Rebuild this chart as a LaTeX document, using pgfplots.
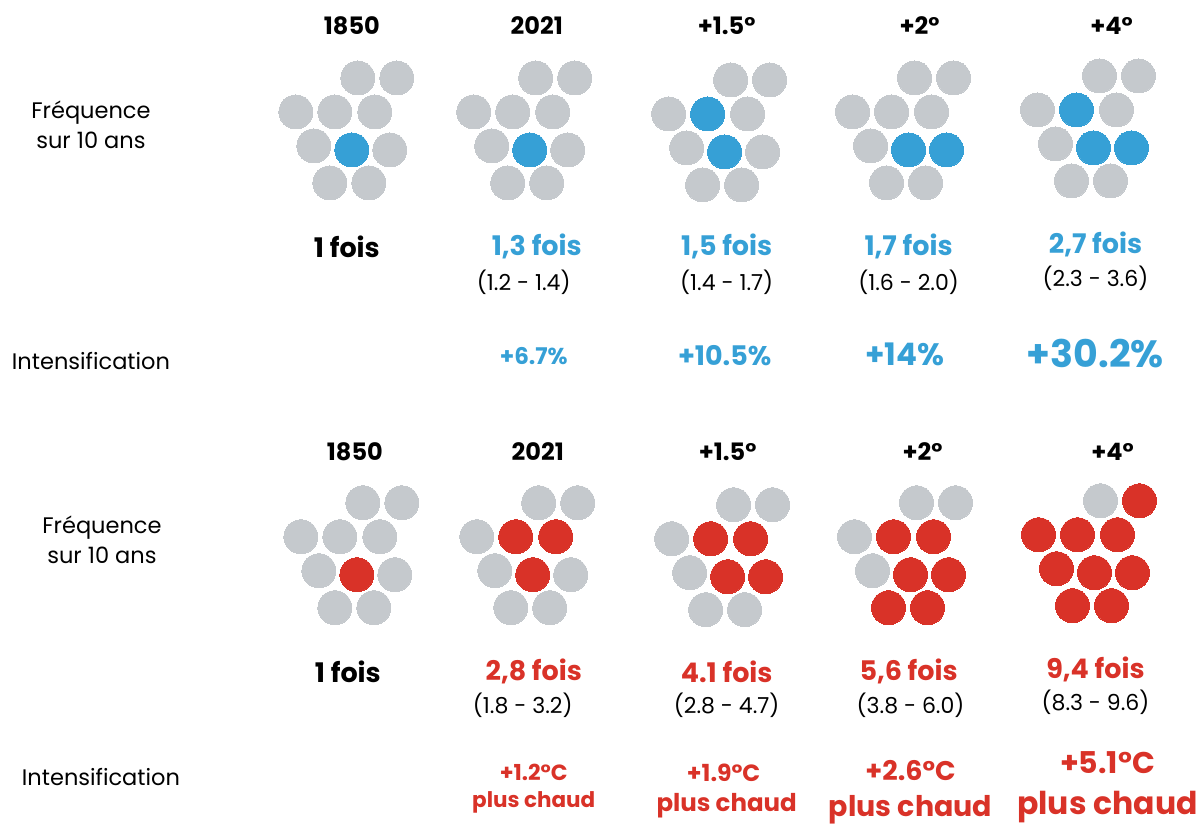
\documentclass[border=0pt]{standalone}
\usepackage{pgfplots}
\pgfplotsset{compat=1.18}
\usepackage{pgfplotstable}
\usepackage{fontspec}
\setmainfont{Poppins}
\definecolor{cgray}{HTML}{C5C9CD}
\definecolor{cblue}{HTML}{36A0D6}
\definecolor{cred}{HTML}{D93228}
\newcommand{\fs}[1]{\fontsize{#1}{#1}\selectfont}

\pgfplotstableread{
x y
358 78
397 78
296 112
335 112
375 112
314 146
390 150
330 183
369 183
536 78
575 78
474 112
513 112
553 112
492 146
568 150
508 183
547 183
731 80
770 80
669 114
748 114
687 148
763 152
703 185
742 185
915 78
954 78
853 112
892 112
932 112
871 146
887 183
926 183
1100 76
1139 76
1038 110
1117 110
1056 144
1072 181
1111 181
}\topgray

\pgfplotstableread{
x y
352 150
530 150
708 114
725 152
909 150
947 150
1077 110
1094 148
1132 148
}\topblue

\pgfplotstableread{
x y
363 503
402 503
301 537
340 537
380 537
319 571
395 575
335 608
374 608
539 503
578 503
477 537
495 571
571 575
511 608
550 608
734 505
773 505
672 539
690 573
706 610
745 610
917 503
956 503
855 537
873 571
1101 501
}\botgray

\pgfplotstableread{
x y
357 575
516 537
556 537
533 575
711 539
751 539
728 577
766 577
894 537
934 537
911 575
949 575
889 608
928 608
1140 501
1039 535
1078 535
1118 535
1057 569
1095 573
1133 573
1073 606
1112 606
}\botred

\begin{document}
\begin{tikzpicture}
\begin{axis}[
  width=1201pt, height=826pt, scale only axis,
  xmin=0, xmax=1201, ymin=0, ymax=826, y dir=reverse,
  hide axis, clip=false,
]
\path (axis cs:0,0) rectangle (axis cs:1201,826);
\addplot[only marks, color=cgray, mark=*, mark size=17pt, mark options={fill=cgray, draw=cgray, line width=0pt}] table {\topgray};
\addplot[only marks, color=cblue, mark=*, mark size=17pt, mark options={fill=cblue, draw=cblue, line width=0pt}] table {\topblue};
\addplot[only marks, color=cgray, mark=*, mark size=17pt, mark options={fill=cgray, draw=cgray, line width=0pt}] table {\botgray};
\addplot[only marks, color=cred, mark=*, mark size=17pt, mark options={fill=cred, draw=cred, line width=0pt}] table {\botred};

% headers
\node[font=\bfseries\fs{24}] at (axis cs:352,26) {1850};
\node[font=\bfseries\fs{24}] at (axis cs:537,26) {2021};
\node[font=\bfseries\fs{24}] at (axis cs:727,26) {+1.5°};
\node[font=\bfseries\fs{24}] at (axis cs:920,26) {+2°};
\node[font=\bfseries\fs{24}] at (axis cs:1112,26) {+4°};
\node[font=\bfseries\fs{24}] at (axis cs:355,452) {1850};
\node[font=\bfseries\fs{24}] at (axis cs:538,452) {2021};
\node[font=\bfseries\fs{24}] at (axis cs:728,452) {+1.5°};
\node[font=\bfseries\fs{24}] at (axis cs:923,452) {+2°};
\node[font=\bfseries\fs{24}] at (axis cs:1113,452) {+4°};
% left labels
\node[font=\fontsize{22.5}{30}\selectfont, align=center] at (axis cs:91,125) {Fréquence\\sur 10 ans};
\node[font=\fs{22.5}] at (axis cs:91,361) {Intensification};
\node[font=\fontsize{22.5}{30}\selectfont, align=center] at (axis cs:102,540) {Fréquence\\sur 10 ans};
\node[font=\fs{22.5}] at (axis cs:101,777) {Intensification};

% top frequencies
\node[font=\bfseries\fs{27}] at (axis cs:347,247) {1 fois};
\node[font=\bfseries\fs{27}, text=cblue] at (axis cs:537,247) {1,3 fois};
\node[font=\bfseries\fs{27}, text=cblue] at (axis cs:727,247) {1,5 fois};
\node[font=\bfseries\fs{27}, text=cblue] at (axis cs:909,247) {1,7 fois};
\node[font=\bfseries\fs{27}, text=cblue] at (axis cs:1096,245) {2,7 fois};
\node[font=\fs{22}] at (axis cs:524,282) {(1.2 - 1.4)};
\node[font=\fs{22}] at (axis cs:727,282) {(1.4 - 1.7)};
\node[font=\fs{22}] at (axis cs:909,282) {(1.6 - 2.0)};
\node[font=\fs{22}] at (axis cs:1096,278) {(2.3 - 3.6)};
% top intensification
\node[font=\bfseries\fs{23}, text=cblue] at (axis cs:534,356) {+6.7\%};
\node[font=\bfseries\fs{27}, text=cblue] at (axis cs:725,356) {+10.5\%};
\node[font=\bfseries\fs{31}, text=cblue] at (axis cs:905,355) {+14\%};
\node[font=\bfseries\fs{38}, text=cblue] at (axis cs:1096,354) {+30.2\%};

% bottom frequencies
\node[font=\bfseries\fs{27}] at (axis cs:348,672) {1 fois};
\node[font=\bfseries\fs{27}, text=cred] at (axis cs:534,672) {2,8 fois};
\node[font=\bfseries\fs{27}, text=cred] at (axis cs:727,672) {4.1 fois};
\node[font=\bfseries\fs{27}, text=cred] at (axis cs:909,672) {5,6 fois};
\node[font=\bfseries\fs{27}, text=cred] at (axis cs:1096,670) {9,4 fois};
\node[font=\fs{22}] at (axis cs:523,706) {(1.8 - 3.2)};
\node[font=\fs{22}] at (axis cs:727,706) {(2.8 - 4.7)};
\node[font=\fs{22}] at (axis cs:911,706) {(3.8 - 6.0)};
\node[font=\fs{22}] at (axis cs:1096,703) {(8.3 - 9.6)};
% bottom intensification
\node[font=\bfseries\fs{22}, text=cred] at (axis cs:534,773) {+1.2°C};
\node[font=\bfseries\fs{21.5}, text=cred] at (axis cs:534,803) {plus chaud};
\node[font=\bfseries\fs{23.5}, text=cred] at (axis cs:724,773) {+1.9°C};
\node[font=\bfseries\fs{24.5}, text=cred] at (axis cs:727,806) {plus chaud};
\node[font=\bfseries\fs{27}, text=cred] at (axis cs:911,771) {+2.6°C};
\node[font=\bfseries\fs{28.5}, text=cred] at (axis cs:911,810) {plus chaud};
\node[font=\bfseries\fs{30}, text=cred] at (axis cs:1108,763) {+5.1°C};
\node[font=\bfseries\fs{31.5}, text=cred] at (axis cs:1108,807) {plus chaud};
\end{axis}
\end{tikzpicture}
\end{document}
